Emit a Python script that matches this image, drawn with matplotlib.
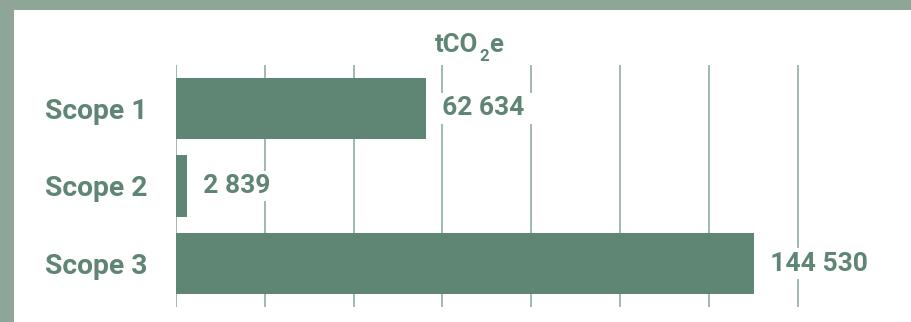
import matplotlib
matplotlib.use("Agg")
import matplotlib.pyplot as plt
from matplotlib.patches import Rectangle

categories = ["Scope 1", "Scope 2", "Scope 3"]
values = [62634, 2839, 144530]
value_labels = ["62 634", "2 839", "144 530"]
title_parts = ["tCO", "2", "e"]

GREEN = "#5f8574"
GRID = "#86a799"
BORDER = "#8fa597"

plt.rcParams["font.family"] = ["Roboto", "DejaVu Sans"]
plt.rcParams["font.weight"] = "bold"

W, H = 912, 322
fig = plt.figure(figsize=(W / 100, H / 100), dpi=100)
fig.patch.set_facecolor("white")

# border bands (top and left)
fig.patches.append(Rectangle((0, 1 - 10 / H), 1, 10 / H, transform=fig.transFigure,
                             facecolor=BORDER, edgecolor="none", zorder=0))
fig.patches.append(Rectangle((0, 0), 14 / W, 1, transform=fig.transFigure,
                             facecolor=BORDER, edgecolor="none", zorder=0))

ax_l, ax_r = 176, 886
ax_t, ax_b = 65, 307
ax = fig.add_axes([ax_l / W, 1 - ax_b / H, (ax_r - ax_l) / W, (ax_b - ax_t) / H])
ax.set_facecolor("none")

px_per_unit = 578 / 144530
ax.set_xlim(0, (ax_r - ax_l) / px_per_unit)
ax.set_ylim(2.561, -0.561)

step = 88.8 / px_per_unit
for k in range(8):
    ax.axvline(k * step, color=GRID, lw=1.1, zorder=1)

y = list(range(len(categories)))
ax.barh(y, values, height=0.787, color=GREEN, zorder=2)

for yi, v, lab in zip(y, values, value_labels):
    ax.annotate("  " + lab + "  ", xy=(v, yi), xytext=(3.0, 0), textcoords="offset pixels",
                ha="left", va="center", fontsize=19, fontweight="bold", color=GREEN,
                bbox=dict(boxstyle="square,pad=0.12", facecolor="white", edgecolor="none"),
                zorder=3)

ax.set_yticks(y)
ax.set_yticklabels(categories, fontsize=20.3, fontweight="bold", color=GREEN)
ax.tick_params(axis="y", length=0, pad=28 * 0.72)
ax.set_xticks([])
for s in ax.spines.values():
    s.set_visible(False)

# title tCO2e built from pieces
fig.canvas.draw()
renderer = fig.canvas.get_renderer()
base_y = 1 - 52 / H
t1 = fig.text(0, base_y, title_parts[0], ha="left", va="baseline",
              fontsize=18.5, fontweight="bold", color=GREEN)
e1 = t1.get_window_extent(renderer)
t2 = fig.text(0, base_y - 9 / H, title_parts[1], ha="left", va="baseline",
              fontsize=12, fontweight="bold", color=GREEN)
e2 = t2.get_window_extent(renderer)
t3 = fig.text(0, base_y, title_parts[2], ha="left", va="baseline",
              fontsize=18.5, fontweight="bold", color=GREEN)
e3 = t3.get_window_extent(renderer)
gap = 1.0
total = e1.width + gap + e2.width + gap + e3.width
x0 = 469 - total / 2
t1.set_x(x0 / W)
t2.set_x((x0 + e1.width + gap) / W)
t3.set_x((x0 + e1.width + gap + e2.width + gap) / W)

fig.savefig("out.png", dpi=100, facecolor="white")
